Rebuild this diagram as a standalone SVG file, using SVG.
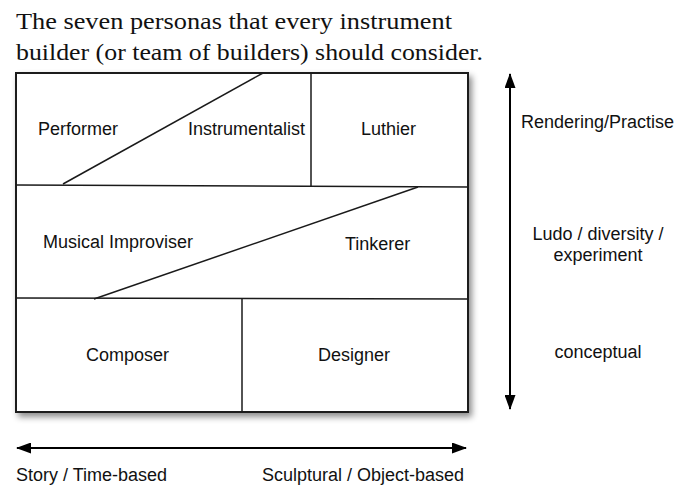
<svg xmlns="http://www.w3.org/2000/svg" width="677" height="485" viewBox="0 0 677 485">
  <defs>
    <style>
      .lbl { font-family: "Liberation Sans", Arial, sans-serif; font-size: 18px; fill: #111; }
      .title { font-family: "Liberation Serif", "Times New Roman", serif; font-size: 23px; fill: #111; }
      .frame { fill: #fff; stroke: #1a1a1a; stroke-width: 2; }
      .div { fill: none; stroke: #1a1a1a; stroke-width: 1.5; }
      .axis { fill: none; stroke: #000; stroke-width: 2; }
    </style>
    <filter id="shadow" x="-10%" y="-10%" width="130%" height="130%">
      <feDropShadow dx="3" dy="4" stdDeviation="3" flood-color="#000" flood-opacity="0.45"/>
    </filter>
    <marker id="arrow" viewBox="0 0 15 11" refX="14" refY="5.5" markerUnits="userSpaceOnUse" markerWidth="15" markerHeight="11" orient="auto-start-reverse">
      <path d="M0,0 L15,5.5 L0,11 z" fill="#000"/>
    </marker>
  </defs>
  <rect width="677" height="485" fill="#fff"/>

  <g id="title">
    <text class="title" x="16" y="29" textLength="436" lengthAdjust="spacingAndGlyphs">The seven personas that every instrument</text>
    <text class="title" x="16" y="60" textLength="467" lengthAdjust="spacingAndGlyphs">builder (or team of builders) should consider.</text>
  </g>

  <g id="grid">
    <rect class="frame" x="16" y="73" width="452" height="339" filter="url(#shadow)"/>
    <line class="div" x1="16" y1="185" x2="468" y2="187"/>
    <line class="div" x1="16" y1="298" x2="468" y2="299"/>
    <line class="div" x1="63" y1="184" x2="263" y2="73"/>
    <line class="div" x1="311" y1="73" x2="311" y2="186"/>
    <line class="div" x1="94" y1="299" x2="418" y2="187"/>
    <line class="div" x1="242" y1="299" x2="242" y2="412"/>
  </g>

  <g id="performer"><text class="lbl" x="38" y="135">Performer</text></g>
  <g id="instrumentalist"><text class="lbl" x="188" y="135">Instrumentalist</text></g>
  <g id="luthier"><text class="lbl" x="361" y="135">Luthier</text></g>
  <g id="musical-improviser"><text class="lbl" x="43" y="248">Musical Improviser</text></g>
  <g id="tinkerer"><text class="lbl" x="345" y="250">Tinkerer</text></g>
  <g id="composer"><text class="lbl" x="86" y="361">Composer</text></g>
  <g id="designer"><text class="lbl" x="318" y="361">Designer</text></g>

  <g id="connectors">
    <line class="axis" x1="510" y1="74" x2="510" y2="409" marker-start="url(#arrow)" marker-end="url(#arrow)"/>
    <line class="axis" x1="17" y1="448" x2="466" y2="448" marker-start="url(#arrow)" marker-end="url(#arrow)"/>
  </g>

  <g id="vertical-labels">
    <text class="lbl" x="521" y="128">Rendering/Practise</text>
    <text class="lbl" x="598" y="240" text-anchor="middle">Ludo / diversity /</text>
    <text class="lbl" x="598" y="261" text-anchor="middle">experiment</text>
    <text class="lbl" x="598" y="358" text-anchor="middle">conceptual</text>
  </g>

  <g id="horizontal-labels">
    <text class="lbl" x="16" y="481">Story / Time-based</text>
    <text class="lbl" x="262" y="481">Sculptural / Object-based</text>
  </g>
</svg>
